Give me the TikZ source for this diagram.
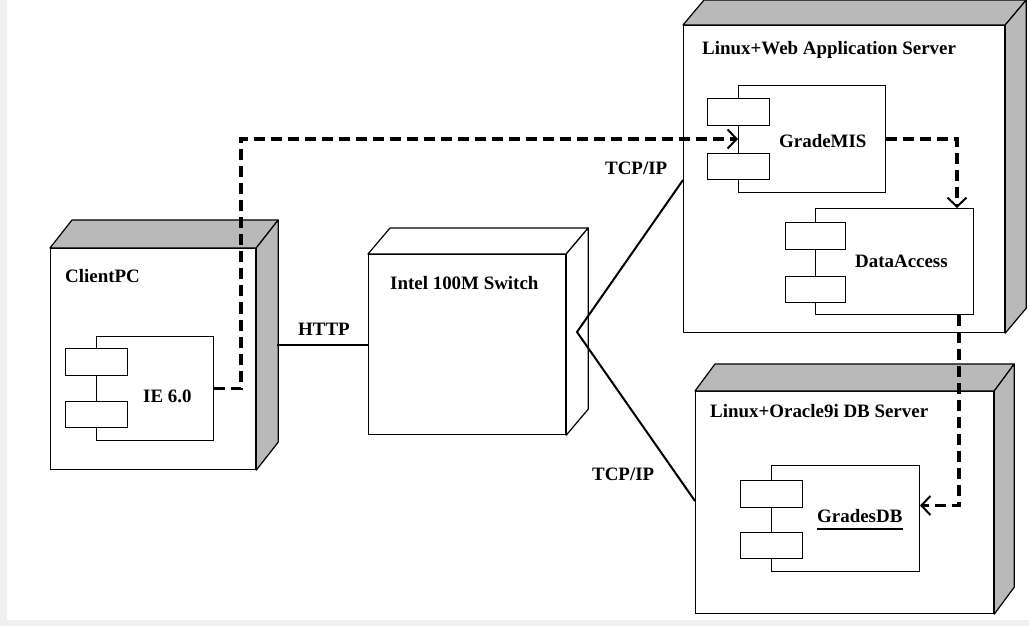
\documentclass[tikz,border=0pt]{standalone}
\usepackage{fontspec}
\setmainfont{Liberation Serif}
\usetikzlibrary{arrows.meta,calc}
\newcommand{\lbfont}{\fontsize{19}{22}\selectfont\bfseries}
\tikzset{
  front/.style={draw, line width=1.2bp, fill=white, inner sep=0pt, anchor=north west},
  facestyle/.style={draw, line width=1.2bp, line join=round},
  comp/.style={draw, line width=1bp, fill=white, inner sep=0pt, anchor=north west},
  lbl/.style={font=\lbfont, inner sep=0pt, anchor=base west},
  dep/.style={line width=3.4bp, dash pattern=on 11bp off 6bp,
    -{Straight Barb[length=9bp,width=19bp,line width=2bp]}},
  link/.style={line width=2bp},
}
% name, x, y, w, h, dx, dy, fill
\newcommand{\cubenode}[8]{%
  \node[front, minimum width=#4bp, minimum height=#5bp] (#1) at (#2,#3) {};
  \draw[facestyle, fill=#8] (#1.north west) -- ([shift={(#6,-#7)}]#1.north west)
     -- ([shift={(#6,-#7)}]#1.north east) -- (#1.north east) -- cycle;
  \draw[facestyle, fill=#8] (#1.north east) -- ([shift={(#6,-#7)}]#1.north east)
     -- ([shift={(#6,-#7)}]#1.south east) -- (#1.south east) -- cycle;
}
% name, x, y, w, h, small x, small w, s1 y, s2 y
\newcommand{\compbox}[9]{%
  \node[comp, minimum width=#4bp, minimum height=#5bp] (#1) at (#2,#3) {};
  \node[comp, minimum width=#7bp, minimum height=27bp] (#1-a) at (#6,#8) {};
  \node[comp, minimum width=#7bp, minimum height=26bp] (#1-b) at (#6,#9) {};
}
\begin{document}
\begin{tikzpicture}[x=1bp,y=-1bp]
  \fill[gray!12] (0,0) rectangle (1029,626);
  \fill[white] (7,0) rectangle (1029,620);
  \useasboundingbox (0,0) rectangle (1029,626);

  % devices
  \cubenode{client}{50}{248}{205}{221}{22}{28}{gray!55}
  \cubenode{switch}{368}{254}{197}{180}{22}{26}{white}
  \cubenode{web}{683}{25}{321}{307}{21}{25}{gray!55}
  \cubenode{db}{695}{391}{298}{222}{20}{27}{gray!55}

  \node[lbl] (clientl) at (65,283) {ClientPC};
  \node[lbl] (switchl) at (390,290) {Intel 100M Switch};
  \node[lbl] (webl) at (702,55) {Linux+Web Application Server};
  \node[lbl] (dbl) at (710,417) {Linux+Oracle9i DB Server};

  % components
  \compbox{ie}{96}{336}{117}{104}{65}{62}{348}{401}
  \compbox{gmis}{738}{85}{147}{107}{707}{62}{98}{153}
  \compbox{da}{815}{208}{158}{106}{785}{60}{222}{276}
  \compbox{gdb}{771}{465}{148}{106}{740}{62}{480}{532}

  \node[lbl] (iel) at (143,402) {IE 6.0};
  \node[lbl] (gmisl) at (779,148) {GradeMIS};
  \node[lbl] (dal) at (855,268) {DataAccess};
  \node[lbl] (gdbl) at (817,522) {GradesDB};
  \draw[line width=2bp] ([yshift=-7bp]gdbl.base west) -- ([yshift=-7bp]gdbl.base east);

  % physical links
  \coordinate (httpA) at (277,345);
  \draw[line width=1.5bp] (httpA) -- (httpA -| switch.west);
  \node[lbl] (httpl) at (298,335) {HTTP};

  \coordinate (swv) at (577,332);
  \coordinate (webin) at (683,180);
  \coordinate (dbin) at (695,501);
  \draw[link] (webin) -- (swv) -- (dbin);
  \node[lbl] (tcp1) at (605,175) {TCP/IP};
  \node[lbl] (tcp2) at (592,480) {TCP/IP};

  % dependencies
  \draw[dep] (ie.east) -- ++(27,0) |- (gmis.west);
  \draw[dep] (gmis.east) -| ([xshift=-17bp]da.north east);
  \draw[dep] ([xshift=-15bp]da.south east) |- ([yshift=13bp]gdb.east);
\end{tikzpicture}
\end{document}
